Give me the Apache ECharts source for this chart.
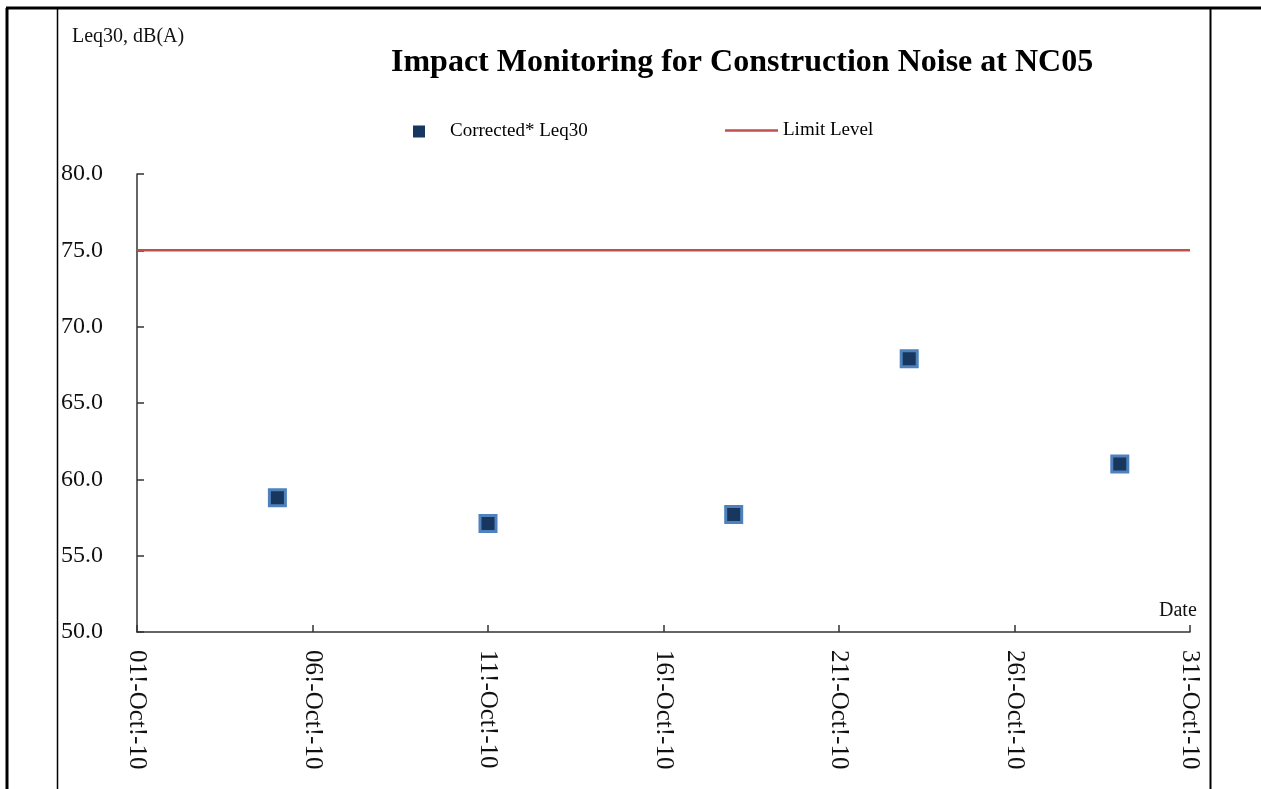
<!DOCTYPE html>
<html>
<head>
<meta charset="utf-8">
<script src="https://cdn.jsdelivr.net/npm/echarts@6/dist/echarts.min.js"></script>
<style>
html,body{margin:0;padding:0;background:#fff;}
#chart{width:1261px;height:789px;}
</style>
</head>
<body>
<div id="chart"></div>
<script>
// Data
const titleText = 'Impact Monitoring for Construction Noise at NC05';
const yAxisName = 'Leq30, dB(A)';
const xAxisName = 'Date';
const seriesNames = ['Corrected* Leq30', 'Limit Level'];
const measureDays = [5, 11, 18, 23, 29];          // day of October 2010
const measureValues = [58.8, 57.1, 57.7, 67.9, 61.0];
const limitDays = [1, 31];
const limitValues = [75, 75];
const xTickDays = [1, 6, 11, 16, 21, 26, 31];
const xTickLabels = ['01!-Oct!-10', '06!-Oct!-10', '11!-Oct!-10', '16!-Oct!-10', '21!-Oct!-10', '26!-Oct!-10', '31!-Oct!-10'];

const serif = '"Liberation Serif", "Times New Roman", serif';
const chart = echarts.init(document.getElementById('chart'), null, {renderer: 'canvas'});

const option = {
  backgroundColor: '#ffffff',
  animation: false,
  title: {
    text: titleText,
    left: 391,
    top: 47,
    padding: 0,
    textStyle: {fontFamily: serif, fontSize: 32, fontWeight: 'bold', color: '#000'}
  },
  legend: [
    {
      left: 413, top: 122, padding: 0,
      itemWidth: 12, itemHeight: 12,
      data: [{name: seriesNames[0], icon: 'rect', itemStyle: {color: '#17375e', borderWidth: 0, opacity: 1}}],
      textStyle: {fontFamily: serif, fontSize: 19, color: '#000', padding: [0, 0, 0, 20]}
    },
    {
      left: 725, top: 121, padding: 0,
      itemWidth: 53, itemHeight: 2.5,
      data: [{name: seriesNames[1], icon: 'rect', itemStyle: {color: '#c0504d', borderWidth: 0}}],
      textStyle: {fontFamily: serif, fontSize: 19, color: '#000', padding: [0, 0, 0, 0]}
    }
  ],
  grid: {left: 137, right: 71, top: 174, bottom: 157, containLabel: false},
  xAxis: {
    type: 'value',
    min: 1, max: 31, interval: 5,
    axisLine: {show: true, onZero: false, lineStyle: {color: '#333', width: 1.5}},
    axisTick: {show: true, inside: true, length: 7, lineStyle: {color: '#333', width: 1.5}},
    splitLine: {show: false},
    axisLabel: {
      rotate: -90, margin: 18,
      fontFamily: serif, fontSize: 25, color: '#111',
      formatter: function (v) { const i = xTickDays.indexOf(v); return i >= 0 ? xTickLabels[i] : ''; }
    }
  },
  yAxis: {
    type: 'value',
    min: 50, max: 80, interval: 5,
    axisLine: {show: true, lineStyle: {color: '#333', width: 1.5}},
    axisTick: {show: true, inside: true, length: 7, lineStyle: {color: '#333', width: 1.5}},
    splitLine: {show: false},
    axisLabel: {
      align: 'left', margin: 76,
      fontFamily: serif, fontSize: 24, color: '#111',
      formatter: function (v) { return v.toFixed(1); }
    }
  },
  graphic: [
    {type: 'line', shape: {x1: 6, y1: 8, x2: 1261, y2: 8}, style: {stroke: '#000', lineWidth: 3}, silent: true},
    {type: 'line', shape: {x1: 7, y1: 8, x2: 7, y2: 789}, style: {stroke: '#000', lineWidth: 3}, silent: true},
    {type: 'line', shape: {x1: 57.5, y1: 9, x2: 57.5, y2: 789}, style: {stroke: '#000', lineWidth: 1.5}, silent: true},
    {type: 'line', shape: {x1: 1210.5, y1: 9, x2: 1210.5, y2: 789}, style: {stroke: '#000', lineWidth: 2}, silent: true},
    {type: 'text', left: 72, top: 27, style: {text: yAxisName, font: '20px ' + serif, fill: '#111'}},
    {type: 'text', left: 1159, top: 601, style: {text: xAxisName, font: '20px ' + serif, fill: '#111'}}
  ],
  series: [
    {
      name: seriesNames[0],
      type: 'scatter',
      symbol: 'rect',
      symbolSize: 16,
      data: measureDays.map((d, i) => [d, measureValues[i]]),
      itemStyle: {color: '#17375e', borderColor: '#4f81bd', borderWidth: 3, opacity: 1},
      z: 3
    },
    {
      name: seriesNames[1],
      type: 'line',
      symbol: 'none',
      showSymbol: false,
      data: limitDays.map((d, i) => [d, limitValues[i]]),
      lineStyle: {color: '#c0504d', width: 2.5},
      itemStyle: {color: '#c0504d'},
      z: 2
    }
  ]
};
chart.setOption(option);
</script>
</body>
</html>
